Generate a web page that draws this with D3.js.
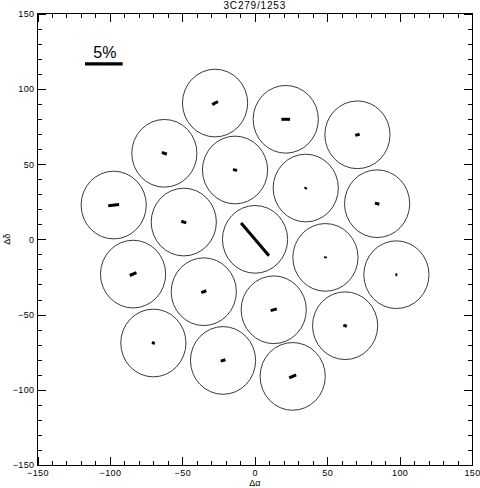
<!DOCTYPE html>
<html>
<head>
<meta charset="utf-8">
<script src="https://cdn.jsdelivr.net/npm/d3@7"></script>
<style>
  body { margin: 0; background: #fff; }
  text { font-family: "Liberation Sans", Helvetica, Arial, sans-serif; fill: #000; }
  .axis path, .axis line { stroke: #000; stroke-width: 1; shape-rendering: crispEdges; }
  .axis text { font-size: 9px; letter-spacing: 0.4px; }
</style>
</head>
<body>
<svg width="480" height="488"></svg>
<script>
// field offsets (arcsec) of each aperture
var offX = [-27.4, 21.4, 70.9, -62.4, -13.6, 35.2, 84.5, -97.4, -49.0, 0.2,
            48.8, 97.8, -84.0, -35.2, 13.1, 62.4, -70.0, -21.9, 26.2];
var offY = [90.6, 79.8, 69.5, 57.2, 46.1, 34.1, 23.7, 22.8, 11.5, 0.0,
            -12.0, -23.5, -23.1, -34.8, -46.8, -57.4, -68.9, -80.5, -91.1];
// polarization degree (%) and angle (deg, counterclockwise from +x)
var polPct = [0.85, 1.15, 0.6, 0.7, 0.55, 0.25, 0.6, 1.45, 0.7, 5.6,
              0.25, 0.25, 0.95, 0.7, 0.85, 0.5, 0.4, 0.65, 1.0];
var polAng = [28, 0, 15, -20, -10, 60, -15, 6, -18, -48.6,
              80, 0, 22, 20, 15, -20, -20, 15, 23];
var apRadius = 22.5;
var unitsPerPct = 5.2;   // 5% bar = 26 arcsec
var barPct = 5;

var majorTicks = [-150, -100, -50, 0, 50, 100, 150];
var minorTicks = d3.range(-150, 151, 10);

var svg = d3.select("svg"),
    margin = {top: 13.7, right: 8, bottom: 23, left: 37.5},
    width = +svg.attr("width") - margin.left - margin.right,
    height = +svg.attr("height") - margin.top - margin.bottom;

var x = d3.scaleLinear().domain([-150, 150]).range([0, width]),
    y = d3.scaleLinear().domain([-150, 150]).range([height, 0]);

var g = svg.append("g")
    .attr("transform", "translate(" + margin.left + "," + margin.top + ")");

// frame + ticks on all four sides
function addAxis(axisFn, scale, ticks, size, labels, transform) {
  var a = axisFn(scale).tickValues(ticks).tickSizeInner(-size).tickSizeOuter(0).tickPadding(3);
  if (!labels) a.tickFormat("");
  var ax = g.append("g").attr("class", "axis");
  if (transform) ax.attr("transform", transform);
  ax.call(a);
  return ax;
}
addAxis(d3.axisBottom, x, minorTicks, 4, false, "translate(0," + height + ")");
addAxis(d3.axisBottom, x, majorTicks, 8.5, true, "translate(0," + height + ")")
  .selectAll("text").attr("dy", "0.9em");
addAxis(d3.axisTop, x, minorTicks, 4, false);
addAxis(d3.axisTop, x, majorTicks, 8.5, false);
addAxis(d3.axisLeft, y, minorTicks, 4, false);
addAxis(d3.axisLeft, y, majorTicks, 8.5, true);
addAxis(d3.axisRight, y, minorTicks, 4, false, "translate(" + width + ",0)");
addAxis(d3.axisRight, y, majorTicks, 8.5, false, "translate(" + width + ",0)");
g.selectAll(".axis .domain").remove();
g.append("rect")
    .attr("width", width).attr("height", height)
    .attr("fill", "none").attr("stroke", "#000").attr("shape-rendering", "crispEdges");

// apertures
var rx = x(apRadius) - x(0), ry = y(0) - y(apRadius);
g.selectAll("ellipse.ap")
  .data(offX)
  .enter().append("ellipse")
    .attr("class", "ap")
    .attr("cx", function(d) { return x(d); })
    .attr("cy", function(d, i) { return y(offY[i]); })
    .attr("rx", rx).attr("ry", ry)
    .attr("fill", "none").attr("stroke", "#222").attr("stroke-width", 0.9);

// polarization vectors
g.selectAll("line.vec")
  .data(offX)
  .enter().append("line")
    .attr("class", "vec")
    .attr("x1", function(d, i) { var L = polPct[i] * unitsPerPct / 2, a = polAng[i] * Math.PI / 180; return x(d - L * Math.cos(a)); })
    .attr("x2", function(d, i) { var L = polPct[i] * unitsPerPct / 2, a = polAng[i] * Math.PI / 180; return x(d + L * Math.cos(a)); })
    .attr("y1", function(d, i) { var L = polPct[i] * unitsPerPct / 2, a = polAng[i] * Math.PI / 180; return y(offY[i] - L * Math.sin(a)); })
    .attr("y2", function(d, i) { var L = polPct[i] * unitsPerPct / 2, a = polAng[i] * Math.PI / 180; return y(offY[i] + L * Math.sin(a)); })
    .attr("stroke", "#000").attr("stroke-width", 3);

// 5% scale bar
var barX0 = -117.2, barY = 116.6;
g.append("line")
    .attr("x1", x(barX0)).attr("x2", x(barX0 + barPct * unitsPerPct))
    .attr("y1", y(barY)).attr("y2", y(barY))
    .attr("stroke", "#000").attr("stroke-width", 3.2);
g.append("text")
    .attr("x", x(barX0 + barPct * unitsPerPct / 2) + 1)
    .attr("y", y(barY) - 6)
    .attr("text-anchor", "middle")
    .style("font-size", "16px")
    .text(barPct + "%");

// titles
svg.append("text")
    .attr("x", margin.left + width / 2).attr("y", 9)
    .attr("text-anchor", "middle")
    .style("font-size", "10px").style("letter-spacing", "0.8px")
    .text("3C279/1253");
svg.append("text")
    .attr("x", margin.left + width / 2).attr("y", 486)
    .attr("text-anchor", "middle")
    .style("font-size", "9px")
    .text("Δα");
svg.append("text")
    .attr("transform", "translate(10," + (margin.top + height / 2) + ") rotate(-90)")
    .attr("text-anchor", "middle")
    .style("font-size", "9px")
    .text("Δδ");
</script>
</body>
</html>
